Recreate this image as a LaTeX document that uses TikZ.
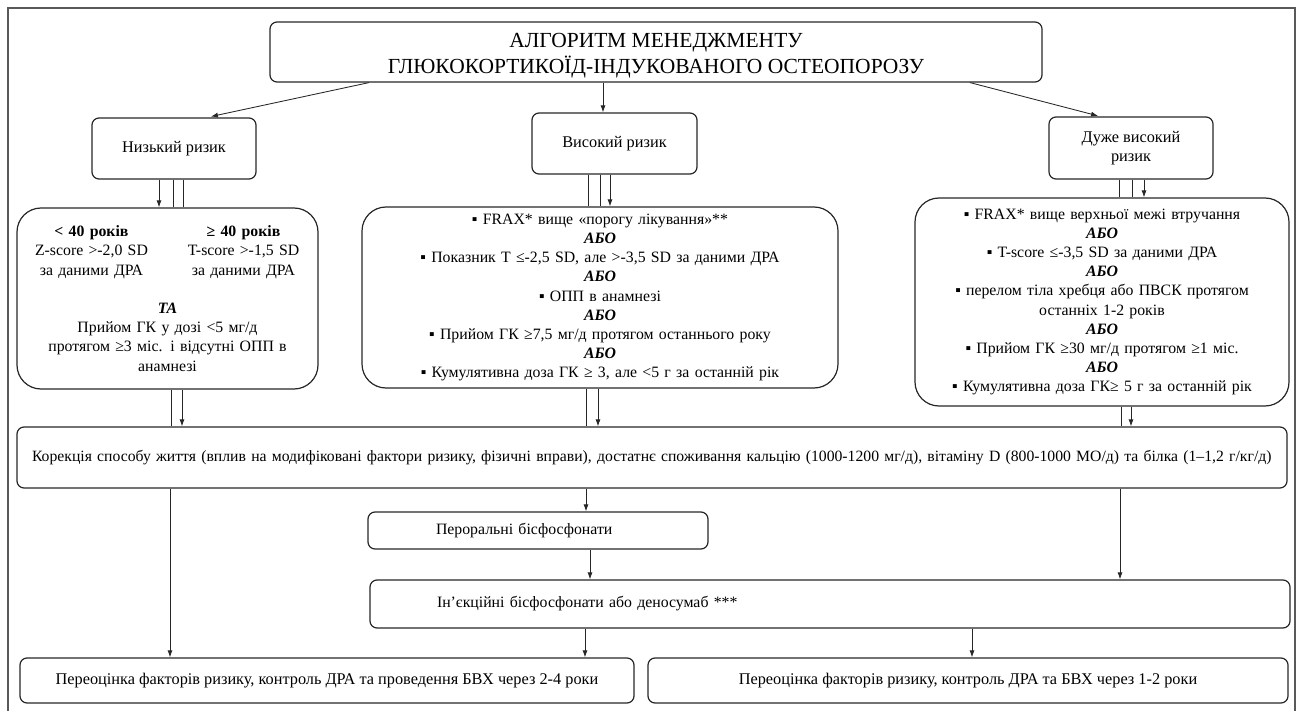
\documentclass[tikz,border=0pt]{standalone}
\usepackage{fontspec}
\setmainfont{Liberation Serif}
\usetikzlibrary{arrows.meta,positioning}

\newcommand{\abo}{\textbf{\textit{АБО}}}
\newcommand{\agecol}[1]{\makebox[145pt]{#1}}

\begin{document}
\begin{tikzpicture}[x=1pt,y=-1pt,>={Latex[length=7pt,width=5pt]},
    box/.style={draw=black!85,line width=1.2pt,rounded corners=7pt,align=center,
      inner sep=2pt,font=\fontsize{15.8}{19.2}\selectfont},
    crit/.style={box,rounded corners=24pt},
    wide/.style={font=\fontsize{16.3}{19.2}\selectfont},
    line/.style={draw=black!85,line width=0.85pt}]

\useasboundingbox (0,0) rectangle (1301,711);
\draw[black!65,line width=2pt] (8,711) -- (8,8) -- (1295,8) -- (1295,711);

% title and risk groups
\node[box,minimum width=772pt,minimum height=60pt,font=\fontsize{21.5}{26}\selectfont] (title) at (656,52)
  {\rule{0pt}{21pt}АЛГОРИТМ МЕНЕДЖМЕНТУ\\ГЛЮКОКОРТИКОЇД-ІНДУКОВАНОГО ОСТЕОПОРОЗУ};
\node[box,wide,minimum width=164pt,minimum height=61pt] (low) at (174,148.5) {Низький ризик};
\node[box,wide,minimum width=165pt,minimum height=61pt] (high) at (614.5,143.5) {Високий ризик};
\node[box,wide,minimum width=164pt,minimum height=62pt] (vhigh) at (1131,148) {Дуже високий\\ризик};

% criteria
\node[crit,text width=297pt,minimum height=181pt] (lowcrit) at (167.5,298.5)
  {\agecol{\textbf{< 40 років}}\hspace{7pt}\agecol{\textbf{≥ 40 років}}\\
   \agecol{Z-score >-2,0 SD}\hspace{7pt}\agecol{T-score >-1,5 SD}\\
   \agecol{за даними ДРА}\hspace{7pt}\agecol{за даними ДРА}\\[19.2pt]
   \textbf{\textit{ТА}}\\Прийом ГК у дозі <5 мг/д\\протягом ≥3 міс. і відсутні ОПП в\\анамнезі};
\node[crit,text width=472pt,minimum height=181pt] (highcrit) at (600,297.5)
  {▪ FRAX* вище «порогу лікування»**\\\abo\\
   ▪ Показник Т ≤-2,5 SD, але >-3,5 SD за даними ДРА\\\abo\\
   ▪ ОПП в анамнезі\\\abo\\
   ▪ Прийом ГК ≥7,5 мг/д протягом останнього року\\\abo\\
   ▪ Кумулятивна доза ГК ≥ 3, але <5 г за останній рік};
\node[crit,text width=370pt,minimum height=208pt] (vhcrit) at (1102,302)
  {▪ FRAX* вище верхньої межі втручання\\\abo\\
   ▪ T-score ≤-3,5 SD за даними ДРА\\\abo\\
   ▪ перелом тіла хребця або ПВСК протягом\\останніх 1-2 років\\\abo\\
   ▪ Прийом ГК ≥30 мг/д протягом ≥1 міс.\\\abo\\
   ▪ Кумулятивна доза ГК≥ 5 г за останній рік};

% treatment
\node[box,align=left,inner xsep=15pt,text width=1240pt,minimum height=61pt,
      font=\fontsize{15.7}{19.2}\selectfont] (life) at (652,457.5)
  {Корекція способу життя (вплив на модифіковані фактори ризику, фізичні вправи), достатнє споживання кальцію (1000-1200 мг/д), вітаміну D (800-1000 МО/д) та білка (1–1,2 г/кг/д)};
\node[box,align=left,inner xsep=68pt,text width=204pt,minimum height=37pt] (oral) at (538,530.5)
  {Пероральні бісфосфонати};
\node[box,align=left,inner xsep=67pt,text width=786pt,minimum height=48pt] (inject) at (830,604)
  {Ін'єкційні бісфосфонати або деносумаб ***};
\node[box,wide,minimum width=614pt,minimum height=45pt] (reval1) at (327,680.5)
  {Переоцінка факторів ризику, контроль ДРА та проведення БВХ через 2-4 роки};
\node[box,wide,minimum width=640pt,minimum height=45pt] (reval2) at (968,680.5)
  {Переоцінка факторів ризику, контроль ДРА та БВХ через 1-2 роки};

% arrows from the title
\draw[line,->,shorten >=4pt] (369,0 |- title.south) -- (207,0 |- low.north);
\draw[line,->] (603,0 |- title.south) -- (603,0 |- high.north);
\draw[line,->,shorten >=2pt] (970,0 |- title.south) -- (1100,0 |- vhigh.north);

% groups to criteria
\draw[line,->] (159,0 |- low.south) -- (159,0 |- lowcrit.north);
\draw[line] (173,0 |- low.south) -- (173,0 |- lowcrit.north);
\draw[line] (183,0 |- low.south) -- (183,0 |- lowcrit.north);
\draw[line] (588,0 |- high.south) -- (588,0 |- highcrit.north);
\draw[line] (600,0 |- high.south) -- (600,0 |- highcrit.north);
\draw[line,->] (610,0 |- high.south) -- (610,0 |- highcrit.north);
\draw[line] (1119,0 |- vhigh.south) -- (1119,0 |- vhcrit.north);
\draw[line] (1132,0 |- vhigh.south) -- (1132,0 |- vhcrit.north);
\draw[line,->] (1144,0 |- vhigh.south) -- (1144,0 |- vhcrit.north);

% criteria to lifestyle
\draw[line] (171,0 |- lowcrit.south) -- (171,0 |- life.north);
\draw[line,->] (182,0 |- lowcrit.south) -- (182,0 |- life.north);
\draw[line] (586,0 |- highcrit.south) -- (586,0 |- life.north);
\draw[line,->] (598,0 |- highcrit.south) -- (598,0 |- life.north);
\draw[line] (1121,0 |- vhcrit.south) -- (1121,0 |- life.north);
\draw[line,->] (1131,0 |- vhcrit.south) -- (1131,0 |- life.north);

% therapy steps
\draw[line,->] (170,0 |- life.south) -- (170,0 |- reval1.north);
\draw[line,->] (586,0 |- life.south) -- (586,0 |- oral.north);
\draw[line,->] (590,0 |- oral.south) -- (590,0 |- inject.north);
\draw[line,->] (1120,0 |- life.south) -- (1120,0 |- inject.north);
\draw[line,->] (585,0 |- inject.south) -- (585,0 |- reval1.north);
\draw[line,->] (972,0 |- inject.south) -- (972,0 |- reval2.north);
\end{tikzpicture}
\end{document}
